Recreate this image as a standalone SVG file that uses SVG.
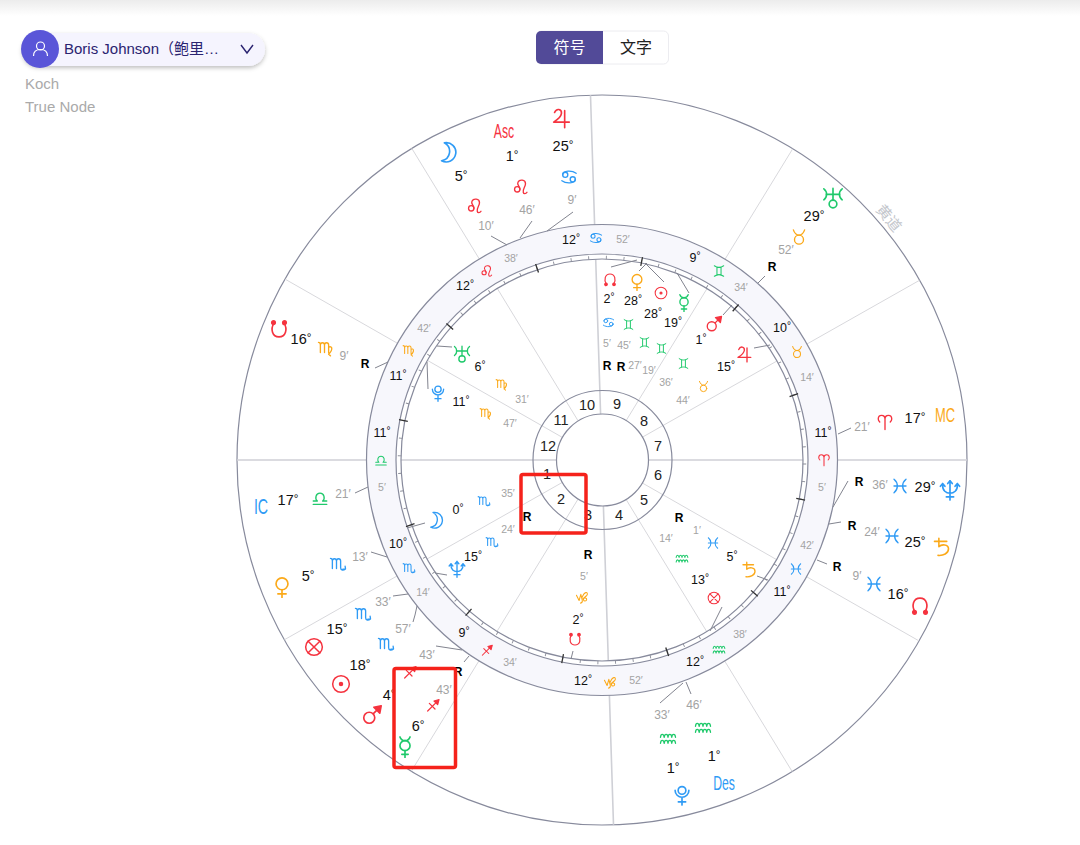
<svg xmlns="http://www.w3.org/2000/svg" width="1080" height="845" viewBox="0 0 1080 845">
<style>
text{font-family:"Liberation Sans","Noto Sans CJK SC",sans-serif;text-anchor:middle;dominant-baseline:central}
.n{font-size:14.5px;fill:#111}
.i{font-size:12.5px;fill:#111}
.m{font-size:12px;fill:#a3a3a3}
.s{font-size:10.5px;fill:#a3a3a3}
.r{font-size:12px;font-weight:bold;fill:#000}
.h{font-size:14.5px;fill:#222}
.d{font-size:.8em;baseline-shift:3px}
.red{fill:#f5333f}.blue{fill:#2f9bf5}.green{fill:#1fc96b}.orange{fill:#fba919}
use{fill:none;stroke:currentColor;stroke-width:1.8;stroke-linecap:round;stroke-linejoin:round}
.cr{color:#f5333f}.cb{color:#2f9bf5}.cg{color:#1fc96b}.co{color:#fba919}
.ring{fill:none;stroke:#878a9c;stroke-width:1.2}
.cusp{stroke:#d8d8dc;stroke-width:1}
.axis{stroke:#cfd0d6;stroke-width:1.6}
.lead{stroke:#82848f;stroke-width:1;fill:none}
.box{fill:none;stroke:#f5221b;stroke-width:3.5}
</style>
<defs>
<linearGradient id="top" x1="0" y1="0" x2="0" y2="1"><stop offset="0" stop-color="#ececec"/><stop offset="1" stop-color="#fff"/></linearGradient>
<filter id="sh" x="-10%" y="-30%" width="120%" height="170%"><feDropShadow dx="0" dy="2" stdDeviation="2" flood-color="#000" flood-opacity=".25"/></filter>
<symbol id="cancer" viewBox="0 0 24 24"><circle cx="7" cy="9" r="3.4"/><circle cx="17" cy="15" r="3.4"/><path d="M3.600 9C4 3 16 3 21.500 7M20.400 15C20 21 8 21 2.500 17"/></symbol>
<symbol id="leo" viewBox="0 0 24 24"><circle cx="7" cy="15" r="3.600"/><path d="M10.500 15C10.500 11 6 9 8 5.500 10 1.500 18 2 18 7.500 18 11.500 14 15 15 19c.5 2.500 3.500 2.500 5 0"/></symbol>
<symbol id="virgo" viewBox="0 0 24 24"><path d="M2 4.500c2 0 2.500 1 2.500 3V18M4.500 8c0-4 5.500-4 5.500 0v10M10 8c0-4 5.500-4 5.500 0v10c0 2 1 3.500 2.500 4.500M15.500 11c4-2.500 7 2 0 9.500"/></symbol>
<symbol id="libra" viewBox="0 0 24 24"><path d="M3 20.500H21M3 16H8.500C5 13.500 6 5.500 12 5.500S19 13.500 15.500 16H21"/></symbol>
<symbol id="scorpio" viewBox="0 0 24 24"><path d="M2 4.500c2 0 2.500 1 2.500 3V18M4.500 8c0-4 5.500-4 5.500 0v10M10 8c0-4 5.500-4 5.500 0v9c0 3.500 3.500 4 6.500 1.500M22 18.500l-.5-3.500M22 18.500l-3.500.5"/></symbol>
<symbol id="sagittarius" viewBox="0 0 24 24"><path d="M4 21L20 5M6.500 9.500L15 18"/><path d="M21 4l-7.500 2 5.500 5.500z" fill="currentColor"/></symbol>
<symbol id="capricorn" viewBox="0 0 24 24"><path d="M2.500 9L7 18 10 7.500 12.500 18c.5 2.500-1 4-3 4.500M12 13C14 8 16 5 18.500 4.500c3-.5 3.500 3 1.500 5S14 13 14.500 16.500s5 3 5.500 0-3.500-4.500-7-1"/></symbol>
<symbol id="aquarius" viewBox="0 0 24 24"><path d="M2 11C2.500 6 6 6 7 11 7.500 6 11.500 6 12 11 12.500 6 16.500 6 17 11 17.500 6 21.500 6 22 11M2 19C2.500 14 6 14 7 19 7.500 14 11.500 14 12 19 12.500 14 16.500 14 17 19 17.500 14 21.500 14 22 19"/></symbol>
<symbol id="pisces" viewBox="0 0 24 24"><path d="M4 3C10 8 10 16 4 21M20 3C14 8 14 16 20 21M4 12H20"/></symbol>
<symbol id="aries" viewBox="0 0 24 24"><path d="M12 22V8C12 1.500 3 1.500 3 8c0 2 1 3 2 4M12 8C12 1.500 21 1.500 21 8c0 2-1 3-2 4"/></symbol>
<symbol id="taurus" viewBox="0 0 24 24"><circle cx="12" cy="15.500" r="6"/><path d="M4.500 2.500C6 7 9 9.500 12 9.500S18 7 19.500 2.500"/></symbol>
<symbol id="gemini" viewBox="0 0 24 24"><path d="M4 3C9 6.500 15 6.500 20 3M4 21C9 17.500 15 17.500 20 21M8.500 5.500V18.500M15.500 5.500V18.500"/></symbol>
<symbol id="sun" viewBox="0 0 24 24"><circle cx="12" cy="12" r="10"/><circle cx="12" cy="12" r="1.800" fill="currentColor"/></symbol>
<symbol id="moon" viewBox="0 0 24 24"><path d="M8 2A10.500 10.500 0 1 1 5 21.500C15 20 17 7 8 2Z"/></symbol>
<symbol id="mercury" viewBox="0 0 24 24"><circle cx="12" cy="10.500" r="5.500"/><path d="M6.500 1c1 3 3 4 5.500 4s4.500-1 5.500-4M12 16V23.500M8.500 20H15.500"/></symbol>
<symbol id="venus" viewBox="0 0 24 24"><circle cx="12" cy="8.500" r="6.500"/><path d="M12 15V23.500M7.500 19.500H16.500"/></symbol>
<symbol id="mars" viewBox="0 0 24 24"><circle cx="9" cy="15" r="6"/><path d="M13.500 10.500L19 5"/><path d="M22 2l-8 1.500 6.500 6.500z" fill="currentColor"/></symbol>
<symbol id="jupiter" viewBox="0 0 24 24"><path d="M5 6C7 1 13 2 12.500 7 12 11 8 14 4 16.500H21M16 4V22.500"/></symbol>
<symbol id="saturn" viewBox="0 0 24 24"><path d="M4 5H18M9 1.500V11C12 8 20 8 20 13.500S14 21.500 8 21"/></symbol>
<symbol id="uranus" viewBox="0 0 24 24"><circle cx="12" cy="18.500" r="4.200"/><path d="M2 2C6 5 6 11 2 14M22 2C18 5 18 11 22 14M4.500 8H19.500M12 1.500V14.500"/></symbol>
<symbol id="neptune" viewBox="0 0 24 24"><path d="M4 6C3.500 13 8 15.500 12 15.500S20.500 13 20 6M12 2V23M8 19.500H16M4 5l-2.500 3M4 5l2.500 3M20 5l-2.500 3M20 5l2.500 3M12 2L9.500 5M12 2l2.500 3"/></symbol>
<symbol id="pluto" viewBox="0 0 24 24"><circle cx="12" cy="7" r="4.200"/><path d="M4.500 7a7.500 7.500 0 0 0 15 0M12 14.500V23M8 19.500H16"/></symbol>
<symbol id="nodeup" viewBox="0 0 24 24"><path d="M6.500 19.500C2.500 13 4.500 4.500 12 4.500S21.500 13 17.500 19.500"/><circle cx="6" cy="20" r="1.900" fill="currentColor"/><circle cx="18" cy="20" r="1.900" fill="currentColor"/></symbol>
<symbol id="nodedown" viewBox="0 0 24 24"><path d="M6.500 4.500C2.500 11 4.500 19.500 12 19.500S21.500 11 17.500 4.500"/><circle cx="6" cy="4" r="1.900" fill="currentColor"/><circle cx="18" cy="4" r="1.900" fill="currentColor"/></symbol>
<symbol id="fortune" viewBox="0 0 24 24"><circle cx="12" cy="12" r="10"/><path d="M5 5L19 19M19 5L5 19"/></symbol>
</defs>
<rect width="1080" height="845" fill="#fff"/>
<rect width="1080" height="16" fill="url(#top)"/>

<g id="chart-selector">
<rect x="22" y="33" width="243" height="33" rx="16.5" fill="#f5f4fe" filter="url(#sh)"/>
<circle cx="40" cy="49" r="19" fill="#5a55d8"/>
<circle cx="40.500" cy="46" r="4" fill="none" stroke="#fff" stroke-width="1.2"/>
<path d="M33.500 56c0-5 3-6.500 7-6.500s7 1.500 7 6.500" fill="none" stroke="#fff" stroke-width="1.2"/>
<text x="64" y="48.500" style="font-size:15px;text-anchor:start;fill:#2a2370">Boris Johnson（鲍里…</text>
<path d="M241 45l6 8 6-8" fill="none" stroke="#2a2370" stroke-width="1.4"/>
<text x="25" y="83.500" style="font-size:15px;text-anchor:start;fill:#aaa">Koch</text>
<text x="25" y="106.500" style="font-size:15px;text-anchor:start;fill:#aaa">True Node</text>
</g>
<g id="mode-toggle">
<rect x="536.500" y="31" width="132" height="33" rx="5" fill="#fff" stroke="#ececf0"/>
<path d="M603 31H541a5 5 0 0 0-5 5v23a5 5 0 0 0 5 5h62z" fill="#524a98"/>
<text x="569.500" y="47.500" style="font-size:16px;fill:#fff">符号</text>
<text x="636" y="47.500" style="font-size:16px;fill:#222">文字</text>
</g>

<g id="wheel">
<circle class="ring" cx="602" cy="460" r="365"/>
<g id="cusps">
<path class="axis" d="M237 460H556M648 460H967M600.600 414L590.500 95.200M603.400 506L613.500 824.800"/>
<path class="cusp" d="M642 437.400L919.500 280.300M562 482.600L284.500 639.700M626 420.800L792.700 148.800M578 499.200L411.300 771.200M578 420.700L411.800 148.400M626 499.300L792.200 771.600M562 437.200L285 279.100M642 482.800L919 640.900"/>
</g>
<circle cx="602" cy="460" r="220.750" fill="none" stroke="#f7f7fc" stroke-width="29.500"/>
<circle cx="602" cy="460" r="203.500" fill="none" stroke="#fff" stroke-width="5"/>
<circle class="ring" cx="602" cy="460" r="235.500"/>
<circle class="ring" cx="602" cy="460" r="206"/>
<circle class="ring" cx="602" cy="460" r="201"/>
<circle cx="602" cy="460" r="202.500" fill="none" stroke="#8a8c98" stroke-width="3.500" stroke-dasharray=".9 16.771" transform="rotate(1 602 460)"/>
<circle cx="602" cy="460" r="202.500" fill="none" stroke="#333" stroke-width="9" stroke-dasharray="1.300 104.730" transform="rotate(11 602 460)"/>
<circle class="ring" cx="602.500" cy="460" r="69.500"/>
<circle class="ring" cx="602.500" cy="460" r="46"/>
<text x="889" y="218" transform="rotate(50 889 218)" style="font-size:15px;fill:#c3c6cc">黄道</text>
</g>

<g id="houses">
<text class="h" x="587" y="405">10</text><text class="h" x="617" y="404">9</text><text class="h" x="644" y="421">8</text><text class="h" x="658" y="446">7</text><text class="h" x="658" y="475">6</text><text class="h" x="644" y="500">5</text><text class="h" x="619" y="515">4</text><text class="h" x="588" y="515">3</text><text class="h" x="561" y="499">2</text><text class="h" x="547" y="474">1</text><text class="h" x="548" y="446">12</text><text class="h" x="561" y="420">11</text>
</g>

<g id="connectors">
<path class="lead" d="M547 231L573 212M520 238L532 221M507 245L491 236M758 283L765 276M838 434L851 428M833 507L848 481M829 524L841 522M817 560L827 564M355 493L368 487M371 552L387 557M393 596L408 594M413 622Q415 616 417 606M436 646L462 650M464 662L469 656M407 528L425 523M435 573L447 575M437 346L452 347M427 362L428 389M375 368L388 362M611 267L637 260M639 271L647 263M664 282L645 263M689 293L677 273M723 315L732 305M754 348L770 345M757 576L768 580M722 607L710 631M573 651L571 659M660 703L683 683M686 682L691 694"/>
</g>

<g id="zodiac-band">
<g id="band-cancer"><text class="i" x="571" y="240">12<tspan class="d">°</tspan></text><use href="#cancer" class="cb" x="589" y="231" width="14" height="14"/><text class="s" x="623" y="239">52′</text></g>
<g id="band-leo"><text class="i" x="465" y="286">12<tspan class="d">°</tspan></text><use href="#leo" class="cr" x="480" y="264" width="14" height="14"/><text class="s" x="511" y="258">38′</text></g>
<g id="band-virgo"><text class="i" x="398" y="376">11<tspan class="d">°</tspan></text><use href="#virgo" class="co" x="402" y="343" width="14" height="14"/><text class="s" x="424" y="328">42′</text></g>
<g id="band-libra"><text class="i" x="382" y="433">11<tspan class="d">°</tspan></text><use href="#libra" class="cg" x="374" y="453" width="14" height="14"/><text class="s" x="382" y="487">5′</text></g>
<g id="band-scorpio"><text class="i" x="398" y="544">10<tspan class="d">°</tspan></text><use href="#scorpio" class="cb" x="402" y="561" width="14" height="14"/><text class="s" x="423" y="592">14′</text></g>
<g id="band-sagittarius"><text class="i" x="464" y="633">9<tspan class="d">°</tspan></text><use href="#sagittarius" class="cr" x="480" y="643" width="14" height="14"/><text class="s" x="510" y="662">34′</text></g>
<g id="band-capricorn"><text class="i" x="583" y="681">12<tspan class="d">°</tspan></text><use href="#capricorn" class="co" x="603" y="675" width="14" height="14"/><text class="s" x="636" y="680">52′</text></g>
<g id="band-aquarius"><text class="i" x="695" y="662">12<tspan class="d">°</tspan></text><use href="#aquarius" class="cg" x="712" y="642" width="14" height="14"/><text class="s" x="740" y="634">38′</text></g>
<g id="band-pisces"><text class="i" x="782" y="592">11<tspan class="d">°</tspan></text><use href="#pisces" class="cb" x="789" y="562" width="14" height="14"/><text class="s" x="807" y="545">42′</text></g>
<g id="band-aries"><text class="i" x="823" y="433">11<tspan class="d">°</tspan></text><use href="#aries" class="cr" x="817" y="453" width="14" height="14"/><text class="s" x="822" y="487">5′</text></g>
<g id="band-taurus"><text class="i" x="782" y="328">10<tspan class="d">°</tspan></text><use href="#taurus" class="co" x="790" y="345" width="14" height="14"/><text class="s" x="807" y="377">14′</text></g>
<g id="band-gemini"><text class="i" x="695" y="258">9<tspan class="d">°</tspan></text><use href="#gemini" class="cg" x="712" y="264" width="14" height="14"/><text class="s" x="741" y="287">34′</text></g>
</g>

<g id="outer-wheel">
<g id="t-jupiter"><use href="#jupiter" class="cr" x="550" y="107" width="22" height="22"/><text class="n" x="563" y="146">25<tspan class="d">°</tspan></text><use href="#cancer" class="cb" x="560" y="168" width="18" height="18"/><text class="m" x="572" y="200">9′</text></g>
<g id="t-asc"><text class="red" transform="translate(504 131) scale(.72 1.15)" style="font-size:17px">Asc</text><text class="n" x="512" y="156">1<tspan class="d">°</tspan></text><use href="#leo" class="cr" x="512" y="178" width="18" height="18"/><text class="m" x="527" y="210">46′</text></g>
<g id="t-moon"><use href="#moon" class="cb" x="437" y="141" width="22" height="22"/><text class="n" x="461" y="176">5<tspan class="d">°</tspan></text><use href="#leo" class="cr" x="466" y="197" width="18" height="18"/><text class="m" x="486" y="226">10′</text></g>
<g id="t-node-down"><use href="#nodedown" class="cr" x="268" y="319" width="22" height="22"/><text class="n" x="301" y="339">16<tspan class="d">°</tspan></text><use href="#virgo" class="co" x="317" y="339" width="18" height="18"/><text class="m" x="344" y="356">9′</text><text class="r" x="365" y="364">R</text></g>
<g id="t-uranus"><use href="#uranus" class="cg" x="822" y="187" width="22" height="22"/><text class="n" x="814" y="216">29<tspan class="d">°</tspan></text><use href="#taurus" class="co" x="790" y="228" width="18" height="18"/><text class="m" x="786" y="250">52′</text><text class="r" x="772" y="267">R</text></g>
<g id="t-mc"><text class="m" x="862" y="427">21′</text><use href="#aries" class="cr" x="876" y="413" width="18" height="18"/><text class="n" x="915" y="418">17<tspan class="d">°</tspan></text><text class="orange" transform="translate(945 415) scale(.72 1.15)" style="font-size:18px">MC</text></g>
<g id="t-neptune"><text class="r" x="859" y="482">R</text><text class="m" x="880" y="485">36′</text><use href="#pisces" class="cb" x="891" y="477" width="18" height="18"/><text class="n" x="925" y="487">29<tspan class="d">°</tspan></text><use href="#neptune" class="cb" x="939" y="479" width="22" height="22"/></g>
<g id="t-saturn"><text class="r" x="852" y="526">R</text><text class="m" x="872" y="532">24′</text><use href="#pisces" class="cb" x="883" y="527" width="18" height="18"/><text class="n" x="915" y="542">25<tspan class="d">°</tspan></text><use href="#saturn" class="co" x="931" y="537" width="21" height="21"/></g>
<g id="t-node-up"><text class="r" x="837" y="567">R</text><text class="m" x="857" y="576">9′</text><use href="#pisces" class="cb" x="865" y="575" width="18" height="18"/><text class="n" x="898" y="594">16<tspan class="d">°</tspan></text><use href="#nodeup" class="cr" x="909" y="594" width="22" height="22"/></g>
<g id="t-ic"><text class="blue" transform="translate(261 506) scale(.75 1.15)" style="font-size:19px">IC</text><text class="n" x="288" y="500">17<tspan class="d">°</tspan></text><use href="#libra" class="cg" x="311" y="489" width="18" height="18"/><text class="m" x="343" y="494">21′</text></g>
<g id="t-venus"><use href="#venus" class="co" x="271" y="576" width="22" height="22"/><text class="n" x="308" y="576">5<tspan class="d">°</tspan></text><use href="#scorpio" class="cb" x="329" y="555" width="18" height="18"/><text class="m" x="360" y="557">13′</text></g>
<g id="t-fortune"><use href="#fortune" class="cr" x="304" y="637" width="20" height="20"/><text class="n" x="337" y="629">15<tspan class="d">°</tspan></text><use href="#scorpio" class="cb" x="354" y="605" width="18" height="18"/><text class="m" x="383" y="602">33′</text></g>
<g id="t-sun"><use href="#sun" class="cr" x="331" y="674" width="20" height="20"/><text class="n" x="360" y="665">18<tspan class="d">°</tspan></text><use href="#scorpio" class="cb" x="377" y="635" width="18" height="18"/><text class="m" x="403" y="629">57′</text></g>
<g id="t-mars"><use href="#mars" class="cr" x="361" y="704" width="22" height="22"/><text class="n" x="389" y="695">4<tspan class="d">°</tspan></text><use href="#sagittarius" class="cr" x="402" y="664" width="16" height="16"/><text class="m" x="427" y="655">43′</text><text class="r" x="458" y="672">R</text></g>
<g id="t-mercury"><use href="#mercury" class="cg" x="394" y="736" width="22" height="22"/><text class="n" x="418" y="726">6<tspan class="d">°</tspan></text><use href="#sagittarius" class="cr" x="425" y="697" width="16" height="16"/><text class="m" x="444" y="690">43′</text></g>
<g id="t-pluto"><text class="n" x="673" y="768">1<tspan class="d">°</tspan></text><use href="#aquarius" class="cg" x="659" y="729" width="18" height="18"/><text class="m" x="662" y="715">33′</text><use href="#pluto" class="cb" x="671" y="784" width="22" height="22"/></g>
<g id="t-des"><text class="n" x="714" y="756">1<tspan class="d">°</tspan></text><use href="#aquarius" class="cg" x="694" y="718" width="18" height="18"/><text class="m" x="694" y="705">46′</text><text class="blue" transform="translate(724 783) scale(.72 1.15)" style="font-size:17px">Des</text></g>
</g>

<g id="inner-wheel">
<g id="n-moon"><use href="#moon" class="cb" x="427" y="511" width="18" height="18"/><text class="i" x="458" y="510">0<tspan class="d">°</tspan></text><use href="#scorpio" class="cb" x="477" y="494" width="14" height="14"/><text class="s" x="508" y="493">35′</text></g>
<g id="n-neptune"><use href="#neptune" class="cb" x="448" y="560" width="18" height="18"/><text class="i" x="473" y="557">15<tspan class="d">°</tspan></text><use href="#scorpio" class="cb" x="485" y="535" width="14" height="14"/><text class="s" x="508" y="529">24′</text><text class="r" x="527" y="517">R</text></g>
<g id="n-uranus"><use href="#uranus" class="cg" x="453" y="345" width="18" height="18"/><text class="i" x="480" y="367">6<tspan class="d">°</tspan></text><use href="#virgo" class="co" x="495" y="377" width="14" height="14"/><text class="s" x="522" y="399">31′</text></g>
<g id="n-pluto"><use href="#pluto" class="cb" x="429" y="384" width="18" height="18"/><text class="i" x="461" y="402">11<tspan class="d">°</tspan></text><use href="#virgo" class="co" x="479" y="406" width="14" height="14"/><text class="s" x="510" y="423">47′</text></g>
<g id="n-node"><use href="#nodeup" class="cr" x="602" y="271" width="16" height="16"/><text class="i" x="609" y="299">2<tspan class="d">°</tspan></text><use href="#cancer" class="cb" x="602" y="316" width="13" height="13"/><text class="s" x="607" y="343">5′</text><text class="r" x="607" y="366">R</text></g>
<g id="n-venus"><use href="#venus" class="co" x="628" y="273" width="18" height="18"/><text class="i" x="633" y="301">28<tspan class="d">°</tspan></text><use href="#gemini" class="cg" x="622" y="318" width="13" height="13"/><text class="s" x="624" y="345">45′</text><text class="r" x="621" y="367">R</text></g>
<g id="n-sun"><use href="#sun" class="cr" x="654" y="286" width="14" height="14"/><text class="i" x="653" y="314">28<tspan class="d">°</tspan></text><use href="#gemini" class="cg" x="638" y="336" width="13" height="13"/><text class="s" x="635" y="365">27′</text></g>
<g id="n-mercury"><use href="#mercury" class="cg" x="675" y="294" width="18" height="18"/><text class="i" x="673" y="323">19<tspan class="d">°</tspan></text><use href="#gemini" class="cg" x="655" y="342" width="13" height="13"/><text class="s" x="649" y="370">19′</text></g>
<g id="n-mars"><use href="#mars" class="cr" x="705" y="315" width="18" height="18"/><text class="i" x="701" y="340">1<tspan class="d">°</tspan></text><use href="#gemini" class="cg" x="677" y="357" width="13" height="13"/><text class="s" x="666" y="382">36′</text></g>
<g id="n-jupiter"><use href="#jupiter" class="cr" x="735" y="345" width="18" height="18"/><text class="i" x="726" y="367">15<tspan class="d">°</tspan></text><use href="#taurus" class="co" x="697" y="380" width="13" height="13"/><text class="s" x="683" y="400">44′</text></g>
<g id="n-saturn"><text class="r" x="679" y="518">R</text><text class="s" x="697" y="530">1′</text><use href="#pisces" class="cb" x="706" y="536" width="14" height="14"/><text class="i" x="732" y="557">5<tspan class="d">°</tspan></text><use href="#saturn" class="co" x="740" y="561" width="18" height="18"/></g>
<g id="n-fortune"><text class="s" x="666" y="538">14′</text><use href="#aquarius" class="cg" x="675" y="551" width="14" height="14"/><text class="i" x="700" y="580">13<tspan class="d">°</tspan></text><use href="#fortune" class="cr" x="707" y="591" width="14" height="14"/></g>
<g id="n-south-node"><text class="r" x="588" y="555">R</text><text class="s" x="584" y="576">5′</text><use href="#capricorn" class="co" x="575" y="590" width="14" height="14"/><text class="i" x="578" y="620">2<tspan class="d">°</tspan></text><use href="#nodedown" class="cr" x="567" y="632" width="16" height="16"/></g>
</g>

<g id="annotations">
<rect class="box" x="394" y="668.500" width="61.500" height="99" rx="2"/>
<rect class="box" x="521" y="474.500" width="65" height="58.500" rx="2"/>
</g>
</svg>
